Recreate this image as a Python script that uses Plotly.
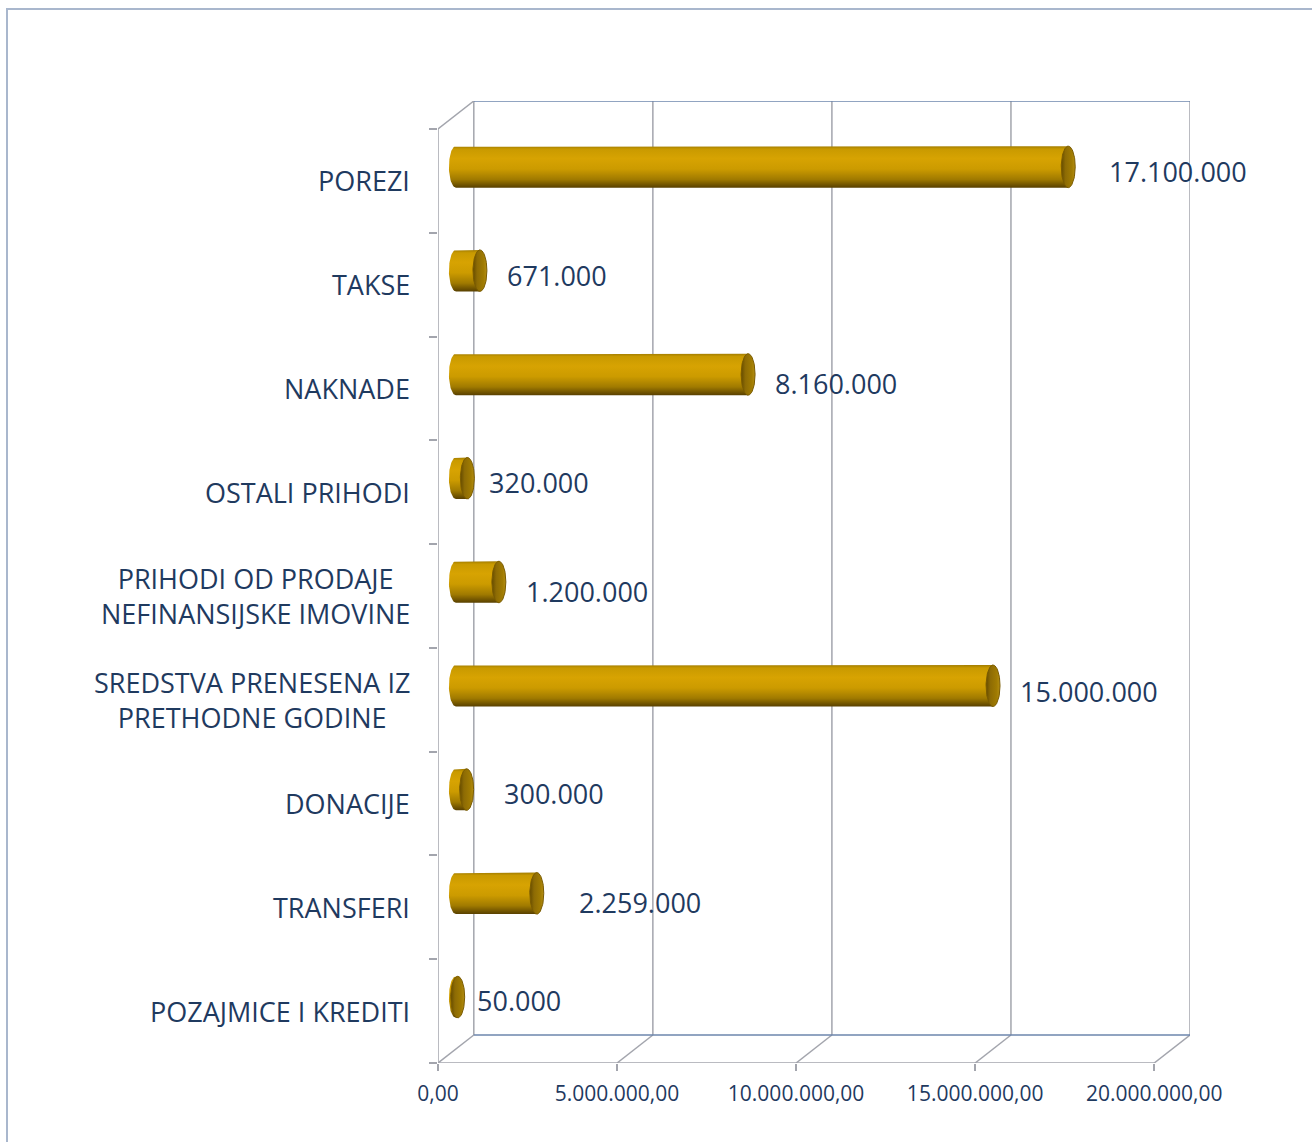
import numpy as np
import plotly.graph_objects as go

# ---------------- data ----------------
categories = [
    "POREZI",
    "TAKSE",
    "NAKNADE",
    "OSTALI PRIHODI",
    "PRIHODI OD PRODAJE<br>NEFINANSIJSKE IMOVINE",
    "SREDSTVA PRENESENA IZ<br>PRETHODNE GODINE",
    "DONACIJE",
    "TRANSFERI",
    "POZAJMICE I KREDITI",
]
values = [17100000, 671000, 8160000, 320000, 1200000, 15000000, 300000, 2259000, 50000]
value_labels = ["17.100.000", "671.000", "8.160.000", "320.000", "1.200.000",
                "15.000.000", "300.000", "2.259.000", "50.000"]
x_tickvals = [0, 5000000, 10000000, 15000000, 20000000]
x_ticktext = ["0,00", "5.000.000,00", "10.000.000,00", "15.000.000,00", "20.000.000,00"]

# ---------------- style / layout ----------------
W, H = 1312, 1142
XMAX_FRONT = 20000000
DX = 1.0e6          # depth offset (value units)
DY = 0.27           # depth offset (category units)
HALF_T = 0.2        # half thickness of cylinder (category units)
CAP_RX = 0.195e6    # horizontal radius of cap ellipse (value units)
label_gap_px = [32, 18, 18, 13, 18, 18, 28, 33, 10]
label_dy_px = [5, 5, 9.5, 4.5, 9.5, 6, 4, 9.5, 3.5]

TEXT = "#1f3a5f"
GRAY = "#a3a5ad"
BLUE = "#6d86ad"
FONT = "Open Sans"

n = len(categories)
ymin, ymax = -0.5, n - 0.5

fig = go.Figure()

body_scale = [[0, "#a27c00"], [0.07, "#c99a00"], [0.3, "#d7a302"], [0.55, "#cc9b00"],
              [0.8, "#a07a00"], [1, "#584000"]]
cap_scale = [[0, "#654b00"], [0.3, "#8d6b04"], [0.75, "#a07b02"], [1, "#b48e14"]]

t_left = np.linspace(np.pi / 2, 3 * np.pi / 2, 40)
t_full = np.linspace(0, 2 * np.pi, 80)
for i, v in enumerate(values):
    yc = i - DY / 2
    x0 = DX / 2
    x1 = x0 + v
    # body: left half ellipse + rectangle
    bx = [x1, x0] + list(x0 + CAP_RX * np.cos(t_left)) + [x0, x1, x1]
    by = [yc - HALF_T, yc - HALF_T] + list(yc - HALF_T * np.sin(t_left)) + [yc + HALF_T, yc + HALF_T, yc - HALF_T]
    fig.add_trace(go.Scatter(
        x=bx, y=by, mode="lines", fill="toself",
        line=dict(width=0, color="rgba(0,0,0,0)"),
        fillgradient=dict(type="vertical", colorscale=body_scale,
                          start=yc - HALF_T, stop=yc + HALF_T),
        hoverinfo="skip", showlegend=False))
    # end cap
    cx = list(x1 + CAP_RX * np.cos(t_full))
    cy = list(yc + HALF_T * np.sin(t_full))
    fig.add_trace(go.Scatter(
        x=cx, y=cy, mode="lines", fill="toself",
        line=dict(width=1, color="#7a5b00"),
        fillgradient=dict(type="horizontal", colorscale=cap_scale,
                          start=x1 - CAP_RX, stop=x1 + CAP_RX),
        hoverinfo="skip", showlegend=False))

shapes = []
def seg(x0, y0, x1, y1, color, width=1.5):
    shapes.append(dict(type="line", xref="x", yref="y", x0=x0, y0=y0, x1=x1, y1=y1,
                       line=dict(color=color, width=width), layer="below"))

# left wall
seg(0, ymin, 0, ymax, GRAY)
seg(0, ymin, DX, ymin - DY, GRAY)
# floor
seg(0, ymax, XMAX_FRONT, ymax, GRAY)
for t in x_tickvals:
    seg(t, ymax, t + DX, ymax - DY, GRAY)
# back wall
for t in x_tickvals:
    seg(t + DX, ymax - DY, t + DX, ymin - DY, GRAY)
seg(DX, ymin - DY, XMAX_FRONT + DX, ymin - DY, BLUE)
seg(DX, ymax - DY, XMAX_FRONT + DX, ymax - DY, BLUE)

# outer chart border
shapes.append(dict(type="rect", xref="paper", yref="paper",
                   x0=7 / W, y0=-0.05, x1=1.05, y1=1 - 9 / H,
                   line=dict(color="#a9b7cd", width=2), fillcolor="rgba(0,0,0,0)"))

annotations = []
for i, c in enumerate(categories):
    annotations.append(dict(x=0, y=i, xref="x", yref="y", text=c, showarrow=False,
                            xanchor="right", yanchor="middle", align="center", xshift=-26,
                            font=dict(family=FONT, size=27, color=TEXT)))
for i, (v, lab) in enumerate(zip(values, value_labels)):
    annotations.append(dict(x=DX / 2 + v, y=i - DY / 2, xref="x", yref="y", text=lab,
                            showarrow=False, xanchor="left", yanchor="middle",
                            xshift=7 + label_gap_px[i], yshift=-label_dy_px[i],
                            font=dict(family=FONT, size=27, color=TEXT)))

fig.update_layout(
    width=W, height=H, autosize=False,
    margin=dict(l=0, r=0, t=0, b=0, pad=0),
    paper_bgcolor="white", plot_bgcolor="rgba(0,0,0,0)",
    showlegend=False,
    shapes=shapes, annotations=annotations,
    xaxis=dict(domain=[438 / W, 1190 / W], range=[0, XMAX_FRONT + DX], automargin=False,
               showgrid=False, zeroline=False, showline=False,
               tickvals=x_tickvals, ticktext=x_ticktext,
               ticks="outside", ticklen=7, tickwidth=1.5, tickcolor=GRAY,
               tickfont=dict(family=FONT, size=21, color=TEXT),
               ticklabelstandoff=5, fixedrange=True),
    yaxis=dict(domain=[1 - 1063 / H, 1 - 101 / H], range=[ymax, ymin - DY], automargin=False,
               showgrid=False, zeroline=False, showline=False,
               tickvals=[k - 0.5 for k in range(n + 1)], ticktext=[""] * (n + 1),
               ticks="outside", ticklen=8, tickwidth=1.5, tickcolor=GRAY,
               showticklabels=False, fixedrange=True),
)

fig.write_html("out.html", config={"displayModeBar": False},
               post_script="document.body.style.margin='0';")
